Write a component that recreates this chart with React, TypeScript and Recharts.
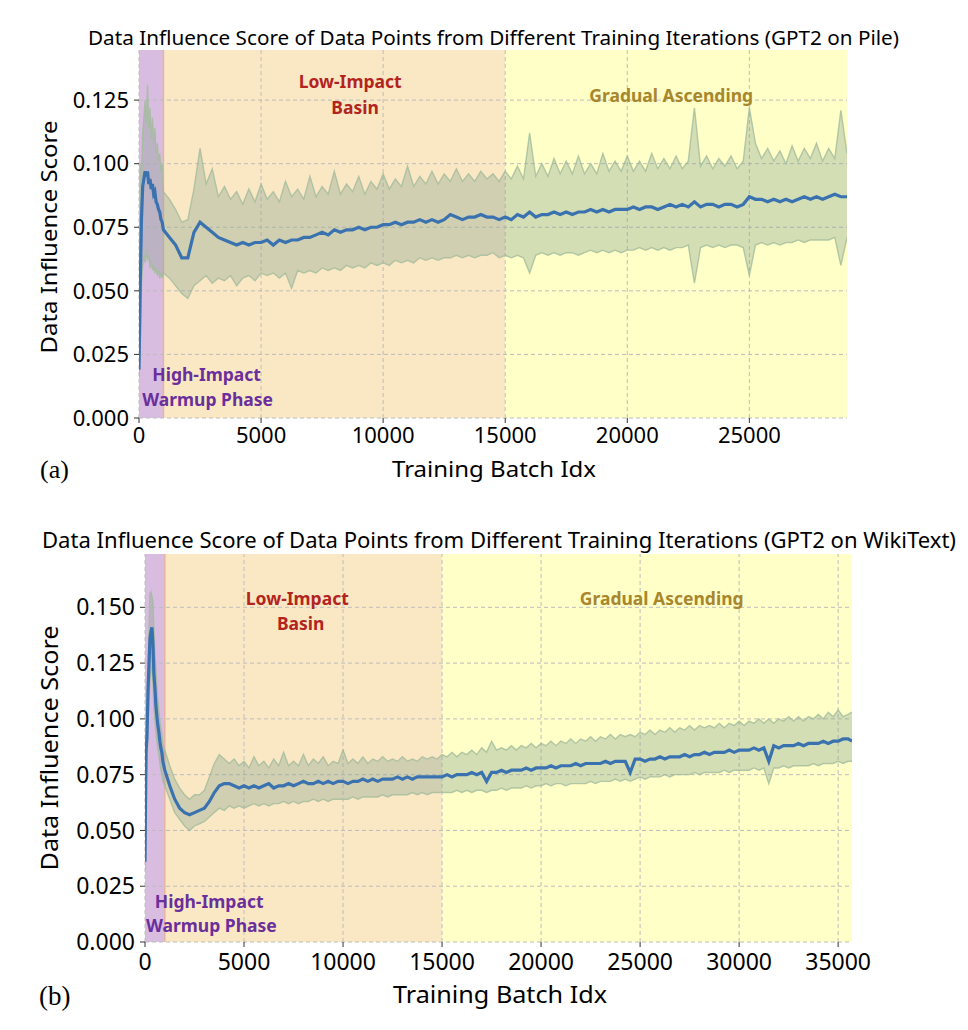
import React from 'react';
import {
  ComposedChart,
  Area,
  Line,
  XAxis,
  YAxis,
  ReferenceArea,
  ReferenceLine,
  ReferenceDot,
} from 'recharts';

// ---------------- Panel (a): GPT2 on Pile ----------------
const batchA = [
  0, 50, 100, 150, 200, 250, 300, 350, 400, 450, 500, 550, 600, 650, 700, 750, 800, 850, 900, 950,
  1000, 1250, 1500, 1750, 2000, 2250, 2500, 2750, 3000, 3250, 3500, 3750, 4000, 4250, 4500, 4750,
  5000, 5250, 5500, 5750, 6000, 6250, 6500, 6750, 7000, 7250, 7500, 7750, 8000, 8250, 8500, 8750,
  9000, 9250, 9500, 9750, 10000, 10250, 10500, 10750, 11000, 11250, 11500, 11750, 12000, 12250, 12500, 12750,
  13000, 13250, 13500, 13750, 14000, 14250, 14500, 14750, 15000, 15250, 15500, 15750, 16000, 16250, 16500, 16750,
  17000, 17250, 17500, 17750, 18000, 18250, 18500, 18750, 19000, 19250, 19500, 19750, 20000, 20250, 20500, 20750,
  21000, 21250, 21500, 21750, 22000, 22250, 22500, 22750, 23000, 23250, 23500, 23750, 24000, 24250, 24500, 24750,
  25000, 25250, 25500, 25750, 26000, 26250, 26500, 26750, 27000, 27250, 27500, 27750, 28000, 28250, 28500, 28750,
  29000,
];
const meanA = [
  0.019, 0.052, 0.078, 0.091, 0.094, 0.097, 0.095, 0.097, 0.092, 0.094, 0.090, 0.092, 0.088, 0.089, 0.085, 0.084, 0.082, 0.081, 0.078, 0.077,
  0.074, 0.071, 0.068, 0.063, 0.063, 0.073, 0.077, 0.075, 0.073, 0.071, 0.070, 0.069, 0.068, 0.069, 0.068, 0.069,
  0.069, 0.070, 0.068, 0.070, 0.069, 0.070, 0.070, 0.071, 0.071, 0.072, 0.073, 0.072, 0.074, 0.073, 0.074, 0.074,
  0.075, 0.074, 0.075, 0.075, 0.076, 0.076, 0.077, 0.076, 0.077, 0.077, 0.078, 0.077, 0.078, 0.077, 0.078, 0.080,
  0.079, 0.078, 0.079, 0.079, 0.080, 0.079, 0.079, 0.078, 0.079, 0.078, 0.080, 0.079, 0.081, 0.079, 0.080, 0.080,
  0.081, 0.080, 0.081, 0.080, 0.081, 0.081, 0.082, 0.081, 0.082, 0.081, 0.082, 0.082, 0.082, 0.083, 0.082, 0.083,
  0.083, 0.082, 0.083, 0.084, 0.083, 0.084, 0.083, 0.085, 0.083, 0.084, 0.084, 0.083, 0.084, 0.084, 0.083, 0.084,
  0.087, 0.086, 0.086, 0.085, 0.086, 0.085, 0.086, 0.085, 0.086, 0.087, 0.086, 0.087, 0.086, 0.087, 0.088, 0.087,
  0.087,
];
const upperA = [
  0.022, 0.100, 0.095, 0.112, 0.118, 0.125, 0.116, 0.131, 0.114, 0.122, 0.110, 0.118, 0.108, 0.114, 0.104, 0.108, 0.101, 0.104, 0.097, 0.100,
  0.089, 0.086, 0.082, 0.077, 0.078, 0.090, 0.106, 0.092, 0.098, 0.087, 0.091, 0.086, 0.089, 0.084, 0.090, 0.085,
  0.092, 0.086, 0.089, 0.085, 0.093, 0.087, 0.090, 0.086, 0.095, 0.087, 0.091, 0.088, 0.097, 0.088, 0.092, 0.089,
  0.095, 0.088, 0.093, 0.090, 0.096, 0.090, 0.094, 0.091, 0.099, 0.091, 0.095, 0.092, 0.097, 0.092, 0.096, 0.093,
  0.098, 0.093, 0.096, 0.093, 0.097, 0.094, 0.096, 0.093, 0.097, 0.094, 0.099, 0.094, 0.112, 0.095, 0.100, 0.095,
  0.102, 0.096, 0.101, 0.096, 0.103, 0.096, 0.100, 0.096, 0.104, 0.097, 0.101, 0.097, 0.103, 0.097, 0.101, 0.097,
  0.104, 0.098, 0.102, 0.098, 0.103, 0.098, 0.101, 0.122, 0.099, 0.103, 0.098, 0.102, 0.099, 0.103, 0.098, 0.101,
  0.122, 0.108, 0.102, 0.106, 0.101, 0.105, 0.100, 0.107, 0.101, 0.106, 0.102, 0.108, 0.101, 0.106, 0.102, 0.121,
  0.104,
];
const lowerA = [
  0.016, 0.030, 0.052, 0.060, 0.064, 0.061, 0.066, 0.062, 0.064, 0.059, 0.062, 0.058, 0.060, 0.057, 0.059, 0.056, 0.058, 0.055, 0.057, 0.055,
  0.057, 0.055, 0.052, 0.049, 0.047, 0.052, 0.054, 0.056, 0.053, 0.055, 0.054, 0.056, 0.052, 0.055, 0.056, 0.054,
  0.057, 0.056, 0.057, 0.055, 0.057, 0.051, 0.058, 0.057, 0.058, 0.057, 0.059, 0.058, 0.059, 0.058, 0.060, 0.059,
  0.060, 0.059, 0.061, 0.060, 0.061, 0.060, 0.062, 0.061, 0.062, 0.061, 0.063, 0.062, 0.063, 0.062, 0.063, 0.063,
  0.064, 0.063, 0.064, 0.063, 0.064, 0.064, 0.065, 0.063, 0.064, 0.063, 0.064, 0.063, 0.057, 0.064, 0.065, 0.064,
  0.065, 0.064, 0.065, 0.065, 0.064, 0.065, 0.066, 0.065, 0.066, 0.065, 0.066, 0.065, 0.066, 0.066, 0.067, 0.066,
  0.067, 0.066, 0.067, 0.066, 0.067, 0.067, 0.068, 0.053, 0.067, 0.068, 0.067, 0.068, 0.067, 0.068, 0.068, 0.067,
  0.056, 0.068, 0.069, 0.068, 0.069, 0.068, 0.069, 0.069, 0.070, 0.069, 0.070, 0.070, 0.070, 0.070, 0.071, 0.060,
  0.071,
];
const xTicksA = [0, 5000, 10000, 15000, 20000, 25000];
const yTicksA = [0, 0.025, 0.05, 0.075, 0.1, 0.125];

// ---------------- Panel (b): GPT2 on WikiText ----------------
const batchB = [
  0, 50, 100, 150, 200, 250, 300, 350, 400, 450, 500, 550, 600, 650, 700, 750, 800, 850, 900, 950,
  1000, 1250, 1500, 1750, 2000, 2250, 2500, 2750, 3000, 3250, 3500, 3750, 4000, 4250, 4500, 4750,
  5000, 5250, 5500, 5750, 6000, 6250, 6500, 6750, 7000, 7250, 7500, 7750, 8000, 8250, 8500, 8750,
  9000, 9250, 9500, 9750, 10000, 10250, 10500, 10750, 11000, 11250, 11500, 11750, 12000, 12250, 12500, 12750,
  13000, 13250, 13500, 13750, 14000, 14250, 14500, 14750, 15000, 15250, 15500, 15750, 16000, 16250, 16500, 16750,
  17000, 17250, 17500, 17750, 18000, 18250, 18500, 18750, 19000, 19250, 19500, 19750, 20000, 20250, 20500, 20750,
  21000, 21250, 21500, 21750, 22000, 22250, 22500, 22750, 23000, 23250, 23500, 23750, 24000, 24250, 24500, 24750,
  25000, 25250, 25500, 25750, 26000, 26250, 26500, 26750, 27000, 27250, 27500, 27750, 28000, 28250, 28500, 28750,
  29000, 29250, 29500, 29750, 30000, 30250, 30500, 30750, 31000, 31250, 31500, 31750, 32000, 32250, 32500, 32750,
  33000, 33250, 33500, 33750, 34000, 34250, 34500, 34750, 35000, 35250, 35500, 35700,
];
const meanB = [
  0.036, 0.085, 0.092, 0.112, 0.124, 0.136, 0.139, 0.141, 0.134, 0.120, 0.114, 0.106, 0.101, 0.097, 0.094, 0.090, 0.087, 0.085, 0.081, 0.079,
  0.077, 0.070, 0.064, 0.060, 0.058, 0.057, 0.058, 0.059, 0.060, 0.063, 0.067, 0.070, 0.071, 0.071, 0.070, 0.069,
  0.070, 0.069, 0.070, 0.069, 0.070, 0.071, 0.069, 0.070, 0.070, 0.071, 0.070, 0.071, 0.072, 0.071, 0.071, 0.072,
  0.071, 0.072, 0.071, 0.072, 0.072, 0.071, 0.072, 0.072, 0.073, 0.072, 0.073, 0.072, 0.073, 0.073, 0.073, 0.074,
  0.073, 0.074, 0.073, 0.074, 0.074, 0.074, 0.074, 0.074, 0.074, 0.075, 0.074, 0.075, 0.075, 0.075, 0.076, 0.075,
  0.076, 0.072, 0.076, 0.076, 0.077, 0.076, 0.077, 0.077, 0.077, 0.078, 0.077, 0.078, 0.078, 0.078, 0.079, 0.078,
  0.079, 0.079, 0.079, 0.080, 0.079, 0.080, 0.080, 0.080, 0.080, 0.081, 0.080, 0.081, 0.081, 0.081, 0.076, 0.082,
  0.082, 0.081, 0.082, 0.082, 0.083, 0.082, 0.083, 0.083, 0.083, 0.084, 0.083, 0.084, 0.084, 0.085, 0.084, 0.085,
  0.085, 0.085, 0.086, 0.085, 0.086, 0.086, 0.086, 0.087, 0.086, 0.087, 0.081, 0.088, 0.087, 0.088, 0.088, 0.088,
  0.089, 0.088, 0.089, 0.089, 0.089, 0.090, 0.089, 0.090, 0.090, 0.091, 0.091, 0.090,
];
const upperB = [
  0.042, 0.092, 0.100, 0.125, 0.140, 0.156, 0.157, 0.155, 0.153, 0.140, 0.130, 0.122, 0.114, 0.108, 0.104, 0.099, 0.096, 0.093, 0.089, 0.087,
  0.086, 0.079, 0.073, 0.069, 0.066, 0.064, 0.066, 0.066, 0.068, 0.074, 0.080, 0.084, 0.082, 0.080, 0.082, 0.079,
  0.081, 0.078, 0.083, 0.079, 0.081, 0.078, 0.082, 0.079, 0.085, 0.079, 0.081, 0.079, 0.084, 0.079, 0.082, 0.080,
  0.083, 0.079, 0.081, 0.080, 0.086, 0.080, 0.082, 0.080, 0.083, 0.080, 0.082, 0.081, 0.083, 0.081, 0.082, 0.081,
  0.083, 0.081, 0.082, 0.081, 0.083, 0.082, 0.083, 0.082, 0.084, 0.083, 0.085, 0.083, 0.085, 0.084, 0.086, 0.084,
  0.087, 0.085, 0.090, 0.086, 0.087, 0.086, 0.088, 0.086, 0.088, 0.087, 0.089, 0.087, 0.089, 0.088, 0.090, 0.088,
  0.090, 0.089, 0.091, 0.089, 0.091, 0.090, 0.092, 0.090, 0.092, 0.091, 0.093, 0.091, 0.093, 0.092, 0.093, 0.092,
  0.094, 0.093, 0.095, 0.093, 0.095, 0.094, 0.096, 0.094, 0.096, 0.095, 0.097, 0.095, 0.097, 0.096, 0.097, 0.096,
  0.098, 0.096, 0.098, 0.097, 0.099, 0.097, 0.099, 0.098, 0.100, 0.098, 0.100, 0.098, 0.100, 0.099, 0.101, 0.099,
  0.101, 0.099, 0.101, 0.100, 0.102, 0.100, 0.103, 0.101, 0.104, 0.101, 0.102, 0.103,
];
const lowerB = [
  0.032, 0.072, 0.080, 0.098, 0.108, 0.118, 0.122, 0.124, 0.116, 0.104, 0.100, 0.094, 0.090, 0.087, 0.084, 0.080, 0.077, 0.075, 0.072, 0.071,
  0.070, 0.064, 0.058, 0.055, 0.052, 0.050, 0.052, 0.053, 0.054, 0.056, 0.058, 0.060, 0.059, 0.061, 0.060, 0.061,
  0.060, 0.061, 0.062, 0.061, 0.062, 0.061, 0.062, 0.062, 0.063, 0.062, 0.063, 0.062, 0.063, 0.063, 0.064, 0.063,
  0.064, 0.063, 0.064, 0.064, 0.064, 0.064, 0.065, 0.064, 0.065, 0.065, 0.065, 0.065, 0.066, 0.065, 0.066, 0.066,
  0.066, 0.066, 0.067, 0.066, 0.067, 0.066, 0.067, 0.067, 0.067, 0.067, 0.067, 0.068, 0.067, 0.068, 0.067, 0.068,
  0.068, 0.067, 0.068, 0.068, 0.069, 0.068, 0.069, 0.069, 0.069, 0.070, 0.069, 0.070, 0.070, 0.071, 0.070, 0.071,
  0.071, 0.070, 0.071, 0.071, 0.071, 0.071, 0.072, 0.071, 0.072, 0.072, 0.072, 0.073, 0.072, 0.073, 0.072, 0.073,
  0.074, 0.073, 0.074, 0.074, 0.074, 0.075, 0.074, 0.075, 0.075, 0.075, 0.075, 0.076, 0.075, 0.076, 0.076, 0.076,
  0.076, 0.077, 0.076, 0.077, 0.077, 0.077, 0.077, 0.078, 0.077, 0.078, 0.071, 0.078, 0.078, 0.079, 0.078, 0.079,
  0.079, 0.079, 0.079, 0.080, 0.079, 0.080, 0.080, 0.080, 0.081, 0.080, 0.081, 0.081,
];
const xTicksB = [0, 5000, 10000, 15000, 20000, 25000, 30000, 35000];
const yTicksB = [0, 0.025, 0.05, 0.075, 0.1, 0.125, 0.15];

// phase boundaries (batch index)
const warmupEnd = 1000;
const basinEnd = 15000;

// annotation texts with anchors in data units [batch, score]
const notesA = [
  { text: 'Low-Impact', at: [8650, 0.1322], kind: 'basin' },
  { text: 'Basin', at: [8850, 0.1219], kind: 'basin' },
  { text: 'Gradual Ascending', at: [21800, 0.1267], kind: 'ascend' },
  { text: 'High-Impact', at: [2770, 0.0168], kind: 'warm' },
  { text: 'Warmup Phase', at: [2810, 0.0071], kind: 'warm' },
];
const notesB = [
  { text: 'Low-Impact', at: [7690, 0.1540], kind: 'basin' },
  { text: 'Basin', at: [7860, 0.1428], kind: 'basin' },
  { text: 'Gradual Ascending', at: [26090, 0.1537], kind: 'ascend' },
  { text: 'High-Impact', at: [3240, 0.0181], kind: 'warm' },
  { text: 'Warmup Phase', at: [3350, 0.0072], kind: 'warm' },
];

const FONT = "'Comic Sans MS', 'Noto Sans', sans-serif";
const NOTE_COLORS: Record<string, string> = {
  basin: '#b3241f',
  ascend: '#a8862c',
  warm: '#6a2f9c',
};

function buildRows(b: number[], m: number[], u: number[], l: number[]) {
  return b.map((x, i) => ({ batch: x, mean: m[i], hi: u[i], lo: l[i] }));
}

type PanelProps = {
  rows: { batch: number; mean: number; hi: number; lo: number }[];
  xMax: number;
  yMax: number;
  xTicks: number[];
  yTicks: number[];
  notes: { text: string; at: number[]; kind: string }[];
  height: number;
  margin: { top: number; right: number; bottom: number; left: number };
  fontSize: number;
  noteSize: number;
  xTickMargin: number;
};

function Panel(p: PanelProps) {
  const tickStyle = { fill: '#000', fontSize: p.fontSize, fontFamily: FONT };
  const gridStroke = '#bdbdbd';
  return (
    <ComposedChart width={968} height={p.height} data={p.rows} margin={p.margin}>
      <XAxis
        type="number"
        dataKey="batch"
        domain={[0, p.xMax]}
        ticks={p.xTicks}
        allowDataOverflow
        axisLine={false}
        tickLine={{ stroke: '#333', strokeWidth: 1 }}
        tickSize={5}
        tickMargin={p.xTickMargin}
        tick={tickStyle}
        height={30}
        interval={0}
      />
      <YAxis
        type="number"
        domain={[0, p.yMax]}
        ticks={p.yTicks}
        allowDataOverflow
        axisLine={false}
        tickLine={{ stroke: '#333', strokeWidth: 1 }}
        tickSize={5}
        tickMargin={5}
        tick={tickStyle}
        tickFormatter={(v: number) => v.toFixed(3)}
        width={60}
        interval={0}
      />
      <ReferenceArea x1={0} x2={warmupEnd} fill="#d9bde1" fillOpacity={1} stroke="none" zIndex={10} />
      <ReferenceArea x1={warmupEnd} x2={basinEnd} fill="#fae8c4" fillOpacity={1} stroke="none" zIndex={10} />
      <ReferenceArea x1={basinEnd} x2={p.xMax} fill="#ffffc8" fillOpacity={1} stroke="none" zIndex={10} />
      <ReferenceLine x={warmupEnd} stroke="#e7b2a6" strokeWidth={1.5} zIndex={20} />
      {p.xTicks.map((t) => (
        <ReferenceLine key={'gx' + t} x={t} stroke={gridStroke} strokeDasharray="4 3" strokeWidth={1} zIndex={20} />
      ))}
      {p.yTicks.map((t) => (
        <ReferenceLine key={'gy' + t} y={t} stroke={gridStroke} strokeDasharray="4 3" strokeWidth={1} zIndex={20} />
      ))}
      <Area
        type="linear"
        dataKey={(d: any) => [d.lo, d.hi]}
        fill="#84a08f"
        fillOpacity={0.35}
        stroke="none"
        isAnimationActive={false}
        zIndex={30}
      />
      <Line type="linear" dataKey="hi" stroke="#a3bc9c" strokeOpacity={0.8} strokeWidth={1.4} dot={false} isAnimationActive={false} zIndex={40} />
      <Line type="linear" dataKey="lo" stroke="#a3bc9c" strokeOpacity={0.8} strokeWidth={1.4} dot={false} isAnimationActive={false} zIndex={40} />
      <Line type="linear" dataKey="mean" stroke="#3a72b0" strokeWidth={3.2} dot={false} isAnimationActive={false} zIndex={50} />
      {p.notes.map((n) => (
        <ReferenceDot
          key={n.text}
          x={n.at[0]}
          y={n.at[1]}
          r={0}
          fill="none"
          stroke="none"
          zIndex={60}
          label={{
            value: n.text,
            position: 'center',
            fill: NOTE_COLORS[n.kind],
            fontSize: p.noteSize,
            fontWeight: 700,
            fontFamily: FONT,
          }}
        />
      ))}
    </ComposedChart>
  );
}

export default function App() {
  const rowsA = buildRows(batchA, meanA, upperA, lowerA);
  const rowsB = buildRows(batchB, meanB, upperB, lowerB);
  return (
    <div style={{ position: 'absolute', left: 0, top: 0, width: 968, height: 1030, background: '#fff' }}>
      <div style={{ position: 'absolute', left: 0, top: 0 }}>
        <Panel
          rows={rowsA}
          xMax={29000}
          yMax={0.1447}
          xTicks={xTicksA}
          yTicks={yTicksA}
          notes={notesA}
          height={490}
          margin={{ top: 50, right: 121, bottom: 42, left: 79 }}
          fontSize={22}
          noteSize={17.5}
          xTickMargin={4}
        />
      </div>
      <div style={{ position: 'absolute', left: 0, top: 510 }}>
        <Panel
          rows={rowsB}
          xMax={35700}
          yMax={0.1739}
          xTicks={xTicksB}
          yTicks={yTicksB}
          notes={notesB}
          height={520}
          margin={{ top: 44, right: 116, bottom: 58, left: 85 }}
          fontSize={23}
          noteSize={17.5}
          xTickMargin={7}
        />
      </div>
      <svg
        width={968}
        height={1030}
        style={{ position: 'absolute', left: 0, top: 0, pointerEvents: 'none' }}
        fontFamily={FONT}
      >
        <text x={493.5} y={45} fontSize={20} textAnchor="middle" textLength={811} lengthAdjust="spacingAndGlyphs" fill="#000">
          Data Influence Score of Data Points from Different Training Iterations (GPT2 on Pile)
        </text>
        <text x={494} y={477} fontSize={22} textAnchor="middle" textLength={204} lengthAdjust="spacingAndGlyphs" fill="#000">
          Training Batch Idx
        </text>
        <text x={57} y={237} fontSize={22} textAnchor="middle" transform="rotate(-90 57 237)" textLength={233} lengthAdjust="spacingAndGlyphs" fill="#000">
          Data Influence Score
        </text>
        <text x={40} y={478} fontSize={26} fontFamily="'Liberation Serif', 'DejaVu Serif', serif" fill="#000">
          (a)
        </text>

        <text x={499} y={548} fontSize={21} textAnchor="middle" textLength={914} lengthAdjust="spacingAndGlyphs" fill="#000">
          Data Influence Score of Data Points from Different Training Iterations (GPT2 on WikiText)
        </text>
        <text x={500} y={1003} fontSize={23} textAnchor="middle" textLength={214} lengthAdjust="spacingAndGlyphs" fill="#000">
          Training Batch Idx
        </text>
        <text x={58} y={748} fontSize={23} textAnchor="middle" transform="rotate(-90 58 748)" textLength={245} lengthAdjust="spacingAndGlyphs" fill="#000">
          Data Influence Score
        </text>
        <text x={39} y={1005} fontSize={27} fontFamily="'Liberation Serif', 'DejaVu Serif', serif" fill="#000">
          (b)
        </text>
      </svg>
    </div>
  );
}
